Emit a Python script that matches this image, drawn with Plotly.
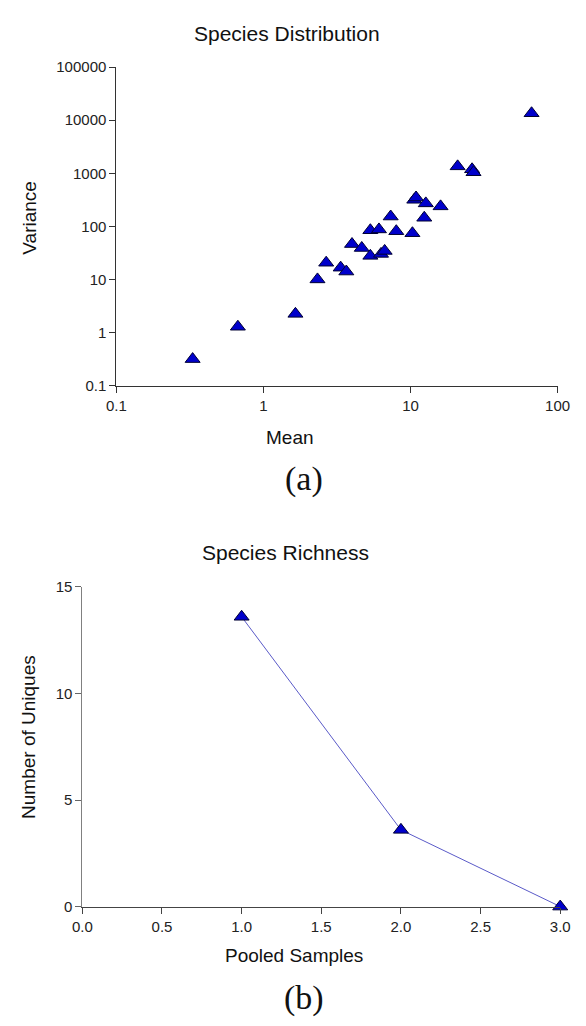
import plotly.graph_objects as go

# ---- data: Species Distribution (mean vs variance) ----
mean_vals = [0.33, 0.67, 1.65, 2.33, 2.67, 3.35, 3.66, 4.0, 4.66, 5.33, 5.33, 6.1,
             6.3, 6.67, 7.33, 8.0, 10.3, 10.6, 10.9, 12.7, 12.4, 16.0, 20.9, 26.2, 26.8, 66.5]
var_vals = [0.32, 1.3, 2.27, 10.1, 20.8, 16.8, 14.2, 46.7, 39.4, 28.0, 85.0, 88.0,
            30.5, 34.7, 154.0, 81.5, 74.7, 318.0, 351.0, 272.0, 146.0, 239.0, 1353.0, 1191.0, 1048.0, 13500.0]
log_x_ticks = [0.1, 1, 10, 100]
log_x_labels = ["0.1", "1", "10", "100"]
log_y_ticks = [0.1, 1, 10, 100, 1000, 10000, 100000]
log_y_labels = ["0.1", "1", "10", "100", "1000", "10000", "100000"]

# ---- data: Species Richness ----
pooled = [1, 2, 3]
uniques = [13.6, 3.6, 0.0]
rich_x_ticks = [0.0, 0.5, 1.0, 1.5, 2.0, 2.5, 3.0]
rich_y_ticks = [0, 5, 10, 15]

W, H = 586, 1026
def px(x):
    return x / W
def py(y):
    return 1 - y / H

FONT = "Liberation Sans, Arial, sans-serif"
SERIF = "Liberation Serif, Times New Roman, serif"
TICKFONT = dict(family=FONT, size=15, color="#222222")

marker = dict(symbol="triangle-up", size=13, color="#0000CC",
              line=dict(color="#000033", width=1))

fig = go.Figure()
fig.add_trace(go.Scatter(x=mean_vals, y=var_vals, mode="markers", marker=marker,
                         xaxis="x", yaxis="y", cliponaxis=False, showlegend=False))
fig.add_trace(go.Scatter(x=pooled, y=uniques, mode="lines+markers", marker=marker,
                         line=dict(color="rgb(90,90,200)", width=1),
                         xaxis="x2", yaxis="y2", cliponaxis=False, showlegend=False))

top_x = [px(110.7), px(570)]
top_y = [py(383.3), py(59)]
bot_x = [px(75.3), px(572.7)]
bot_y = [py(912.7), py(587.7)]

ax_common = dict(showgrid=False, zeroline=False, showline=True, linewidth=1,
                 ticks="outside", ticklen=6, tickwidth=1, tickfont=TICKFONT)

fig.update_layout(
    width=W, height=H, margin=dict(l=0, r=0, t=0, b=0),
    paper_bgcolor="white", plot_bgcolor="white", showlegend=False,
    xaxis=dict(domain=top_x, anchor="y", type="log", range=[-1, 2],
               tickvals=log_x_ticks, ticktext=log_x_labels,
               linecolor="#333333", tickcolor="#333333", **ax_common),
    yaxis=dict(domain=top_y, anchor="x", type="log", range=[-1, 5],
               tickvals=log_y_ticks, ticktext=log_y_labels,
               linecolor="#333333", tickcolor="#333333", **ax_common),
    xaxis3=dict(domain=top_x, anchor="y", overlaying="x", type="log", range=[-1, 2],
                tickvals=log_x_ticks, showticklabels=False, ticks="inside", ticklen=6,
                tickcolor="#333333", showline=False, showgrid=False, zeroline=False),
    yaxis3=dict(domain=top_y, anchor="x", overlaying="y", type="log", range=[-1, 5],
                tickvals=log_y_ticks, showticklabels=False, ticks="inside", ticklen=6,
                tickcolor="#333333", showline=False, showgrid=False, zeroline=False),
    xaxis2=dict(domain=bot_x, anchor="y2", range=[0, 3], tickvals=rich_x_ticks,
                tickformat=".1f", linecolor="#444444", tickcolor="#444444", **ax_common),
    yaxis2=dict(domain=bot_y, anchor="x2", range=[0, 15], tickvals=rich_y_ticks,
                linecolor="#808080", tickcolor="#666666", **ax_common),
    xaxis4=dict(domain=bot_x, anchor="y2", overlaying="x2", range=[0, 3],
                tickvals=rich_x_ticks, showticklabels=False, ticks="inside", ticklen=7,
                tickcolor="#444444", showline=False, showgrid=False, zeroline=False),
    yaxis4=dict(domain=bot_y, anchor="x2", overlaying="y2", range=[0, 15],
                tickvals=rich_y_ticks, showticklabels=False, ticks="inside", ticklen=6,
                tickcolor="#666666", showline=False, showgrid=False, zeroline=False),
)

def label(text, x, y, size, family=FONT, angle=0):
    fig.add_annotation(text=text, x=px(x), y=py(y), xref="paper", yref="paper",
                       xanchor="center", yanchor="middle", showarrow=False,
                       textangle=angle, font=dict(family=family, size=size, color="#111111"))

label("Species Distribution", 288, 25, 21)
label("Variance", 20, 212, 19, angle=-90)
label("Mean", 291, 436, 19)
label("(a)", 306, 478, 34, family=SERIF)
label("Species Richness", 287, 553, 21)
label("Number of Uniques", 20, 740, 19, angle=-90)
label("Pooled Samples", 296, 962, 19)
label("(b)", 306, 1006, 34, family=SERIF)

fig.write_html(
    "out.html",
    config={"displayModeBar": False},
    post_script="document.body.style.margin='0';document.documentElement.style.overflow='hidden';",
)
